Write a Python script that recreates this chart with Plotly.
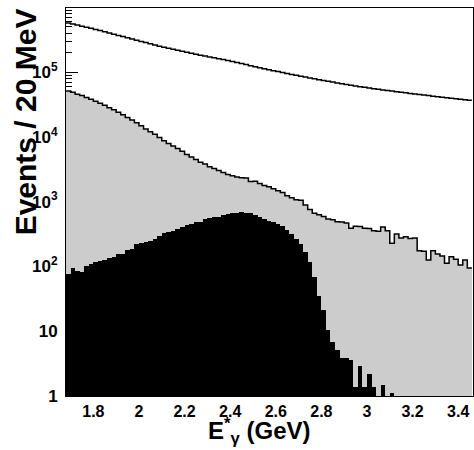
import numpy as np
import plotly.graph_objects as go

# Histogram binning (20 MeV bins)
E_MIN = 1.68
BIN_W = 0.02

# Upper curve (all events), open step line
total = [575000, 553000, 533000, 513000, 493000, 475000, 457000, 438000, 420000, 403000,
         385000, 369000, 354000, 339000, 325000, 311000, 298000, 286000, 274000, 263000,
         252000, 243000, 234000, 226000, 218000, 210000, 202000, 195000, 189000, 183000,
         177000, 171000, 166000, 161000, 156000, 151000, 146000, 141000, 135500, 130600,
         125900, 121300, 116900, 113000, 109100, 105400, 101900, 98400, 95100, 92000,
         89100, 86300, 83800, 81300, 78900, 76600, 74300, 72100, 70200, 68200,
         66400, 64600, 62800, 61100, 59600, 58200, 56900, 55600, 54300, 53100,
         52000, 50900, 49900, 48900, 47900, 46900, 45900, 45000, 44200, 43400,
         42600, 41800, 41000, 40300, 39500, 38800, 38100, 37400, 36700]

# Grey filled histogram
background = [51300, 49000, 45700, 43700, 40700, 38000, 35500, 33100, 30900, 28200,
              26300, 24000, 21900, 19900, 18200, 16600, 14800, 13200, 12000, 11000,
              9770, 8710, 7940, 7240, 6610, 6030, 5370, 4900, 4470, 4070,
              3800, 3470, 3240, 3020, 2820, 2630, 2510, 2400, 2340, 2330,
              2040, 2060, 1900, 1780, 1700, 1590, 1480, 1380, 1230, 1150,
              1070, 1050, 890, 760, 660, 630, 590, 540, 525, 490,
              485, 468, 389, 417, 412, 389, 385, 355, 350, 407,
              355, 229, 316, 275, 288, 269, 275, 174, 172, 126,
              174, 155, 145, 112, 141, 129, 105, 126, 95]

# Black filled histogram
signal = [76, 93, 85, 83, 102, 110, 117, 123, 124, 135,
          141, 155, 158, 178, 186, 219, 234, 240, 245, 269,
          295, 324, 339, 347, 372, 407, 437, 447, 479, 490,
          537, 562, 589, 590, 631, 646, 661, 676, 692, 676,
          661, 617, 589, 537, 501, 479, 447, 417, 363, 316,
          263, 224, 170, 117, 68, 35, 21, 10.5, 6.9, 5.1,
          3.9, 3.9, 3.6, 1.4, 2.9, 1.4, 2.2, 1.4, 0, 1.5,
          0, 1.1, 0, 0, 0, 0, 0, 0, 0, 0,
          0, 0, 0, 0, 0, 0, 0, 0, 0]

X_TICKS = [1.8, 2.0, 2.2, 2.4, 2.6, 2.8, 3.0, 3.2, 3.4]
X_TICK_TEXT = ["1.8", "2", "2.2", "2.4", "2.6", "2.8", "3", "3.2", "3.4"]
Y_TICKS = [1, 10, 100, 1000, 10000, 100000]
Y_TICK_TEXT = ["1", "10", "10<sup>2</sup>", "10<sup>3</sup>", "10<sup>4</sup>", "10<sup>5</sup>"]

n = len(total)
edges = E_MIN + BIN_W * np.arange(n + 1)
centers = edges[:-1] + BIN_W / 2
minor_vals = [k * 10 ** d for d in range(0, 6) for k in range(2, 10)]

FONT = "Liberation Sans"

fig = go.Figure()
fig.add_bar(x=centers, y=background, width=BIN_W,
            marker=dict(color="#cccccc", line=dict(width=0)), hoverinfo="skip")
fig.add_bar(x=centers, y=signal, width=BIN_W,
            marker=dict(color="black", line=dict(width=0)), hoverinfo="skip")
fig.add_scatter(x=edges, y=background + [background[-1]], mode="lines",
                line=dict(shape="hv", color="black", width=1.5), hoverinfo="skip")
fig.add_scatter(x=edges, y=total + [total[-1]], mode="lines",
                line=dict(shape="hv", color="black", width=1.5), hoverinfo="skip")

fig.update_layout(
    width=474, height=450,
    margin=dict(l=66, r=1, t=8, b=54),
    paper_bgcolor="white", plot_bgcolor="white",
    barmode="overlay", bargap=0, showlegend=False,
    font=dict(family=FONT, size=16, color="black", weight="bold"),
    xaxis=dict(range=[1.68, 3.465], tickmode="array", tickvals=X_TICKS, ticktext=X_TICK_TEXT,
               ticks="", showgrid=False, zeroline=False, showline=True, mirror=True,
               linecolor="black", linewidth=1, ticklabelstandoff=1,
               tickfont=dict(family=FONT, size=16, weight="bold")),
    yaxis=dict(type="log", range=[0, 5.99], tickmode="array", tickvals=Y_TICKS, ticktext=Y_TICK_TEXT,
               ticks="inside", ticklen=12, tickcolor="black", tickwidth=1,
               minor=dict(tickmode="array", tickvals=minor_vals, ticks="inside", ticklen=6,
                          tickcolor="black", tickwidth=1, showgrid=False),
               showgrid=False, zeroline=False, showline=True, mirror=True,
               linecolor="black", linewidth=1, layer="below traces", ticklabelstandoff=4,
               tickfont=dict(family=FONT, size=17, weight="bold")),
    annotations=[
        dict(text="Events / 20 MeV", textangle=-90, xref="paper", yref="paper",
             x=-0.10, y=0.706, xanchor="center", yanchor="middle", showarrow=False,
             font=dict(family=FONT, size=30, weight="bold")),
        dict(text="E<sup>*</sup><sub>γ</sub> (GeV)", xref="paper", yref="paper",
             x=0.475, y=-0.1392, xanchor="center", yanchor="bottom", showarrow=False,
             font=dict(family=FONT, size=24, weight="bold")),
    ],
)

fig.write_html("out.html", config={"displayModeBar": False},
               post_script="document.body.style.margin='0px';document.body.style.overflow='hidden';")
